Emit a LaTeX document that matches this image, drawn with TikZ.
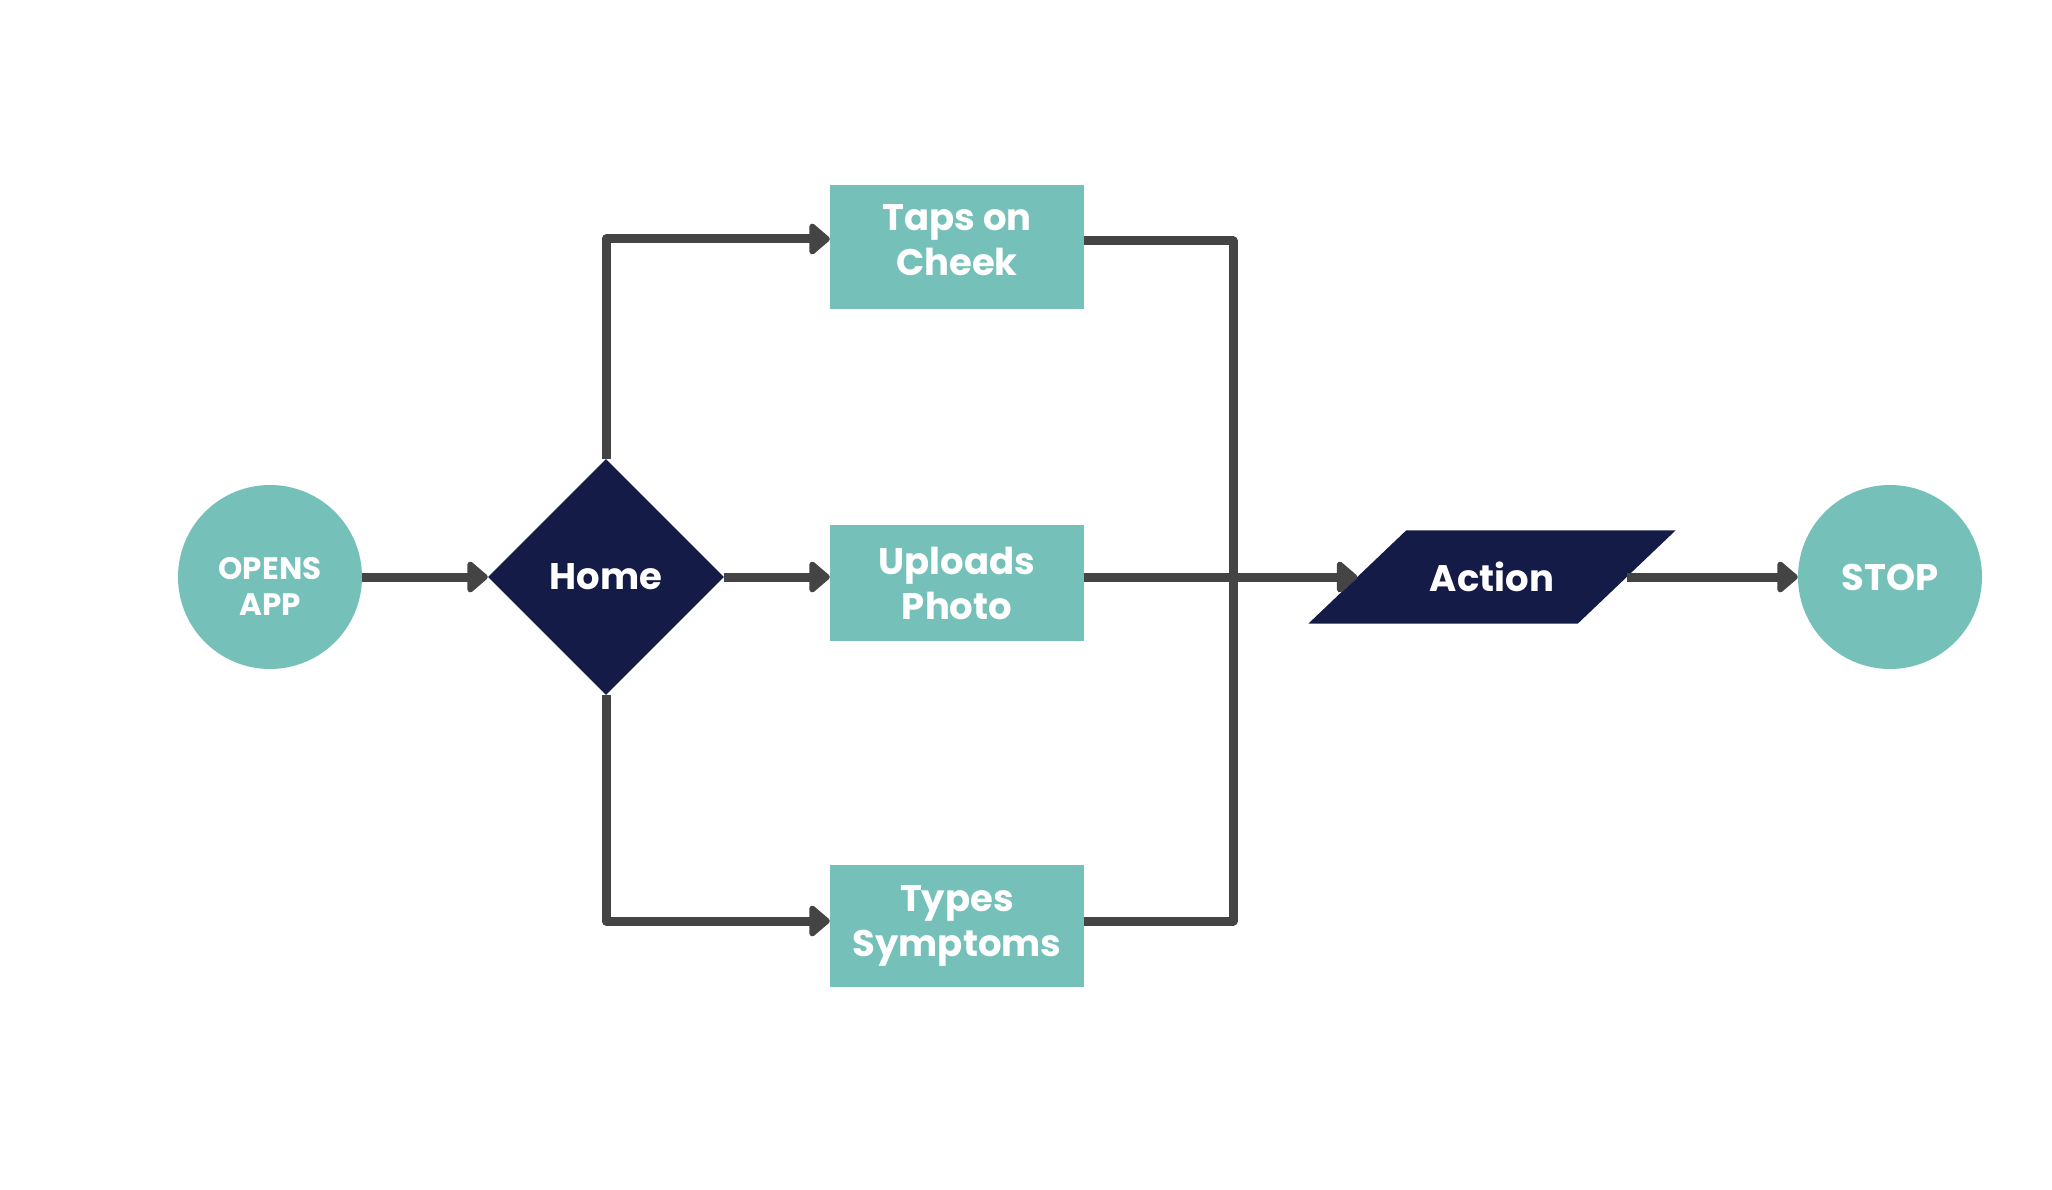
\documentclass[tikz,border=0pt]{standalone}
\usepackage{fontspec}
\setmainfont{Poppins}[UprightFont=* Bold]
\usetikzlibrary{shapes.geometric,arrows.meta,backgrounds}
\definecolor{teal}{HTML}{75C1B9}
\definecolor{navy}{HTML}{141B46}
\definecolor{wire}{HTML}{444444}
\tikzset{
  terminal/.style={circle, fill=teal, text=white, minimum size=184pt, inner sep=0pt, align=center},
  decision/.style={diamond, fill=navy, text=white, minimum width=236pt, minimum height=236pt, inner sep=0pt},
  process/.style={rectangle, fill=teal, text=white, minimum width=254pt, inner sep=0pt, align=center,
    font=\fontsize{37}{45}\selectfont},
  io/.style={rectangle, text=white, minimum width=269pt, minimum height=93pt, inner sep=0pt},
  flow/.style={draw=wire, line width=9pt, line join=round},
  flowtip/.style={-{Triangle[round, length=22pt, width=36pt]}}
}
\begin{document}
\begin{tikzpicture}[x=1pt, y=-1pt]
			\useasboundingbox (0,0) rectangle (2052,1190);
			\node[terminal, font=\fontsize{31}{36}\selectfont] (O) at (270,577) {\rule{0pt}{40pt}OPENS\\APP};
			\node[decision, font=\fontsize{37}{45}\selectfont] (H) at (606,577) {Home};
			\node[process, minimum height=124pt] (T) at (957,247) {Taps on\\Cheek\\[-32pt]};
			\node[process, minimum height=116pt] (U) at (957,583) {Uploads\\Photo};
			\node[process, minimum height=122pt] (S) at (957,926) {Types\\Symptoms};
			\node[io, font=\fontsize{37}{45}\selectfont] (A) at (1492,577) {Action};
			\node[terminal, font=\fontsize{37}{45}\selectfont] (E) at (1890,577) {STOP};
			\coordinate (bus) at (1233,577);
			% slanted box behind the Action text
			\begin{scope}[on background layer]
				\fill[navy] ([xshift=-49pt]A.south west) -- ([xshift=49pt]A.north west)
					-- ([xshift=49pt]A.north east) -- ([xshift=-49pt]A.south east) -- cycle;
			\end{scope}
			\draw[flow, flowtip] (O)--(H);
			\draw[flow, flowtip] (H.east)--(H.east -| U.west);
			\draw[flow, flowtip] (H.north) |- ([yshift=8pt]T.west);
			\draw[flow, flowtip] (H.south) |- ([yshift=5pt]S.west);
			\draw[flow] ([yshift=6pt]T.east) -| (bus) |- ([yshift=5pt]S.east);
			\draw[flow, flowtip] (U.east |- A.west)--(A.west);
			\draw[flow, flowtip] (A.east)--(E.west);
		\end{tikzpicture}
\end{document}
